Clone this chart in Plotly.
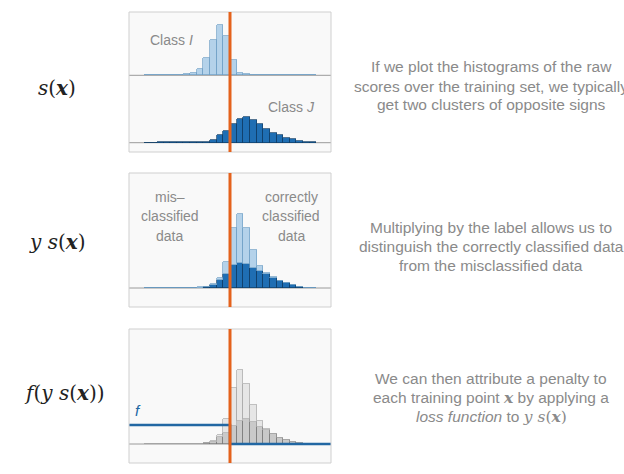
import plotly.graph_objects as go

# Left edges of the histogram bins (bin width 1, orange line at 0)
BINS = list(range(-13, 13))

# Panel 1: raw scores s(x)
CLASS_I = [0, 0, 0, 0, 0.3, 0.6, 1.3, 2.6, 6, 17.3, 35, 50.6, 39,
           15.6, 2, 1, 0.5, 0.3, 0.3, 0, 0, 0, 0, 0, 0, 0]
CLASS_J = [0, 0.2, 0.3, 0.3, 0.3, 0.3, 0.3, 0.4, 0.5, 1, 2.3, 7.7, 11.7,
           18.3, 23.3, 25.7, 23, 19, 14, 9.7, 7.3, 5, 3.3, 1.3, 0.7, 0.3]

# Panel 2: y s(x), stacked (J below, I on top)
YS_J = [0, 0, 0.2, 0.2, 0.2, 0.2, 0.3, 0.3, 0.5, 1, 3, 8, 14,
        23, 24.7, 24, 20.3, 17, 14, 9.7, 7, 4.7, 2.7, 1, 0.5, 0.2]
YS_I = [0, 0, 0, 0, 0, 0, 0, 0, 0.3, 0.5, 1, 2, 11.7,
        36.7, 49, 35.7, 17.7, 5, 1.5, 1, 0.5, 0.3, 0, 0, 0, 0]

# Panel 3: f(y s(x)), same data in grey
LOSS_J = [0, 0, 0.2, 0.2, 0.2, 0.2, 0.3, 0.3, 0.5, 1, 2.3, 7.3, 10.7,
          18, 23, 24.7, 22.3, 17.3, 14, 10, 5.7, 4, 2.3, 1.3, 0.5, 0.2]
LOSS_I = [0, 0, 0, 0, 0, 0, 0, 0, 0, 0.5, 1, 2, 14,
          38.3, 51, 35, 16.7, 5.7, 1, 0.5, 0.3, 0, 0, 0, 0, 0]

# 0-1 loss step
X_RANGE = [-15.2, 15.2]
LOSS_LEVEL = 19

# Right-hand explanations, one list per panel
TEXTO_1 = [
    "If we plot the histograms of the raw",
    "scores over the training set, we typically",
    "get two clusters of opposite signs",
]
TEXTO_2 = [
    "Multiplying by the label allows us to",
    "distinguish the correctly classified data",
    "from the misclassified data",
]
XM = "<span style='font-family:DejaVu Serif'><b><i>x</i></b></span>"
YSX = "<span style='font-family:DejaVu Serif'><i>y</i> <i>s</i>(<b><i>x</i></b>)</span>"
TEXTO_3 = [
    "We can then attribute a penalty to",
    f"each training point {XM} by applying a",
    f"<i>loss function</i> to {YSX}",
]

W, H = 624, 474
CENTERS = [b + 0.5 for b in BINS]

ORANGE = "#e4621c"
FRAME = "#cfcfcf"
PANEL_BG = "#f9f9f9"
TEXT_GREY = "#8a8a8a"
MATH = "DejaVu Serif"


def px(x, y):
    return x / W, 1 - y / H


def ydom(top, bottom):
    return [1 - bottom / H, 1 - top / H]


def barra(y, fill, line, xa, ya):
    return go.Bar(
        x=CENTERS,
        y=y,
        width=1,
        marker_color=fill,
        marker_line_color=line,
        marker_line_width=0.7,
        xaxis=xa,
        yaxis=ya,
        showlegend=False,
        hoverinfo="skip",
    )


fig = go.Figure()

fig.add_trace(barra(CLASS_I, "#b4d2ea", "#6f9fc6", "x", "y"))
fig.add_trace(barra(CLASS_J, "#1f6eb3", "#0f3d66", "x2", "y2"))
fig.add_trace(barra(YS_J, "#1f6eb3", "#0f3d66", "x3", "y3"))
fig.add_trace(barra(YS_I, "#b4d2ea", "#6f9fc6", "x3", "y3"))
fig.add_trace(barra(LOSS_J, "#c9c9c9", "#7a7a7a", "x4", "y4"))
fig.add_trace(barra(LOSS_I, "#e6e6e6", "#a8a8a8", "x4", "y4"))

fig.add_trace(
    go.Scatter(
        x=[X_RANGE[0], 0, 0, X_RANGE[1]],
        y=[LOSS_LEVEL, LOSS_LEVEL, 0, 0],
        mode="lines",
        line_color="#2267a3",
        line_width=2.5,
        xaxis="x4",
        yaxis="y4",
        showlegend=False,
        hoverinfo="skip",
    )
)

xdom = [129 / W, 331 / W]

# (top px, bottom px, y range)
paneles = {
    "": (12, 76, [-0.7, 63.3]),
    "2": (76, 152, [-9.3, 66.7]),
    "3": (173, 307, [-19, 115]),
    "4": (329, 463, [-19, 115]),
}

ejes = {}
for k, (top, bottom, rango) in paneles.items():
    ejes[f"xaxis{k}"] = dict(
        domain=xdom, range=X_RANGE, visible=False, anchor=f"y{k}"
    )
    ejes[f"yaxis{k}"] = dict(
        domain=ydom(top, bottom), range=rango, visible=False, anchor=f"x{k}"
    )

fig.update_layout(**ejes)

shapes = []
# baselines
for k in ["", "2", "3", "4"]:
    shapes.append(
        dict(
            type="line", xref=f"x{k} domain", x0=0, x1=1, yref=f"y{k}",
            y0=0, y1=0, line_color="#9a9a9a", line_width=1, layer="below",
        )
    )

# frames and orange lines
for top, bottom in [(12, 152), (173, 307), (329, 463)]:
    shapes.append(
        dict(
            type="rect", xref="paper", yref="paper",
            x0=xdom[0], x1=xdom[1], y0=1 - bottom / H, y1=1 - top / H,
            line_color=FRAME, line_width=1,
        )
    )
    shapes.append(
        dict(
            type="line", xref="x", yref="paper", x0=0, x1=0,
            y0=1 - bottom / H, y1=1 - top / H,
            line_color=ORANGE, line_width=3,
        )
    )

anotaciones = []


def texto(x, y, t, size=14, color=TEXT_GREY, family="Liberation Sans"):
    ax, ay = px(x, y)
    anotaciones.append(
        dict(
            x=ax, y=ay, xref="paper", yref="paper", text=t, showarrow=False,
            xanchor="center", yanchor="middle", align="center",
            font=dict(size=size, color=color, family=family),
        )
    )


texto(171, 40, "Class <i>I</i>")
texto(291, 107, "Class <i>J</i>")
for i, linea in enumerate(["mis–", "classified", "data"]):
    texto(170, 197 + 19.5 * i, linea)
for i, linea in enumerate(["correctly", "classified", "data"]):
    texto(291, 197 + 19.5 * i, linea)
texto(138, 410, "<i>f</i>", size=15, color="#2267a3")

texto(57, 88, "<i>s</i>(<b><i>x</i></b>)", size=20, color="#222222", family=MATH)
texto(57, 242, "<i>y</i> <i>s</i>(<b><i>x</i></b>)", size=20, color="#222222", family=MATH)
texto(64, 393, "<i>f</i>(<i>y</i> <i>s</i>(<b><i>x</i></b>))", size=20, color="#222222", family=MATH)

for y0, lineas in [(67, TEXTO_1), (227, TEXTO_2), (378, TEXTO_3)]:
    for i, linea in enumerate(lineas):
        texto(491, y0 + 19 * i, linea, size=15.5)

fig.update_layout(
    width=W,
    height=H,
    margin=dict(l=0, r=0, t=0, b=0),
    paper_bgcolor="white",
    plot_bgcolor=PANEL_BG,
    barmode="stack",
    bargap=0,
    shapes=shapes,
    annotations=anotaciones,
)

fig.write_html(
    "out.html",
    config={"displayModeBar": False},
    post_script="document.body.style.margin='0px';",
)
